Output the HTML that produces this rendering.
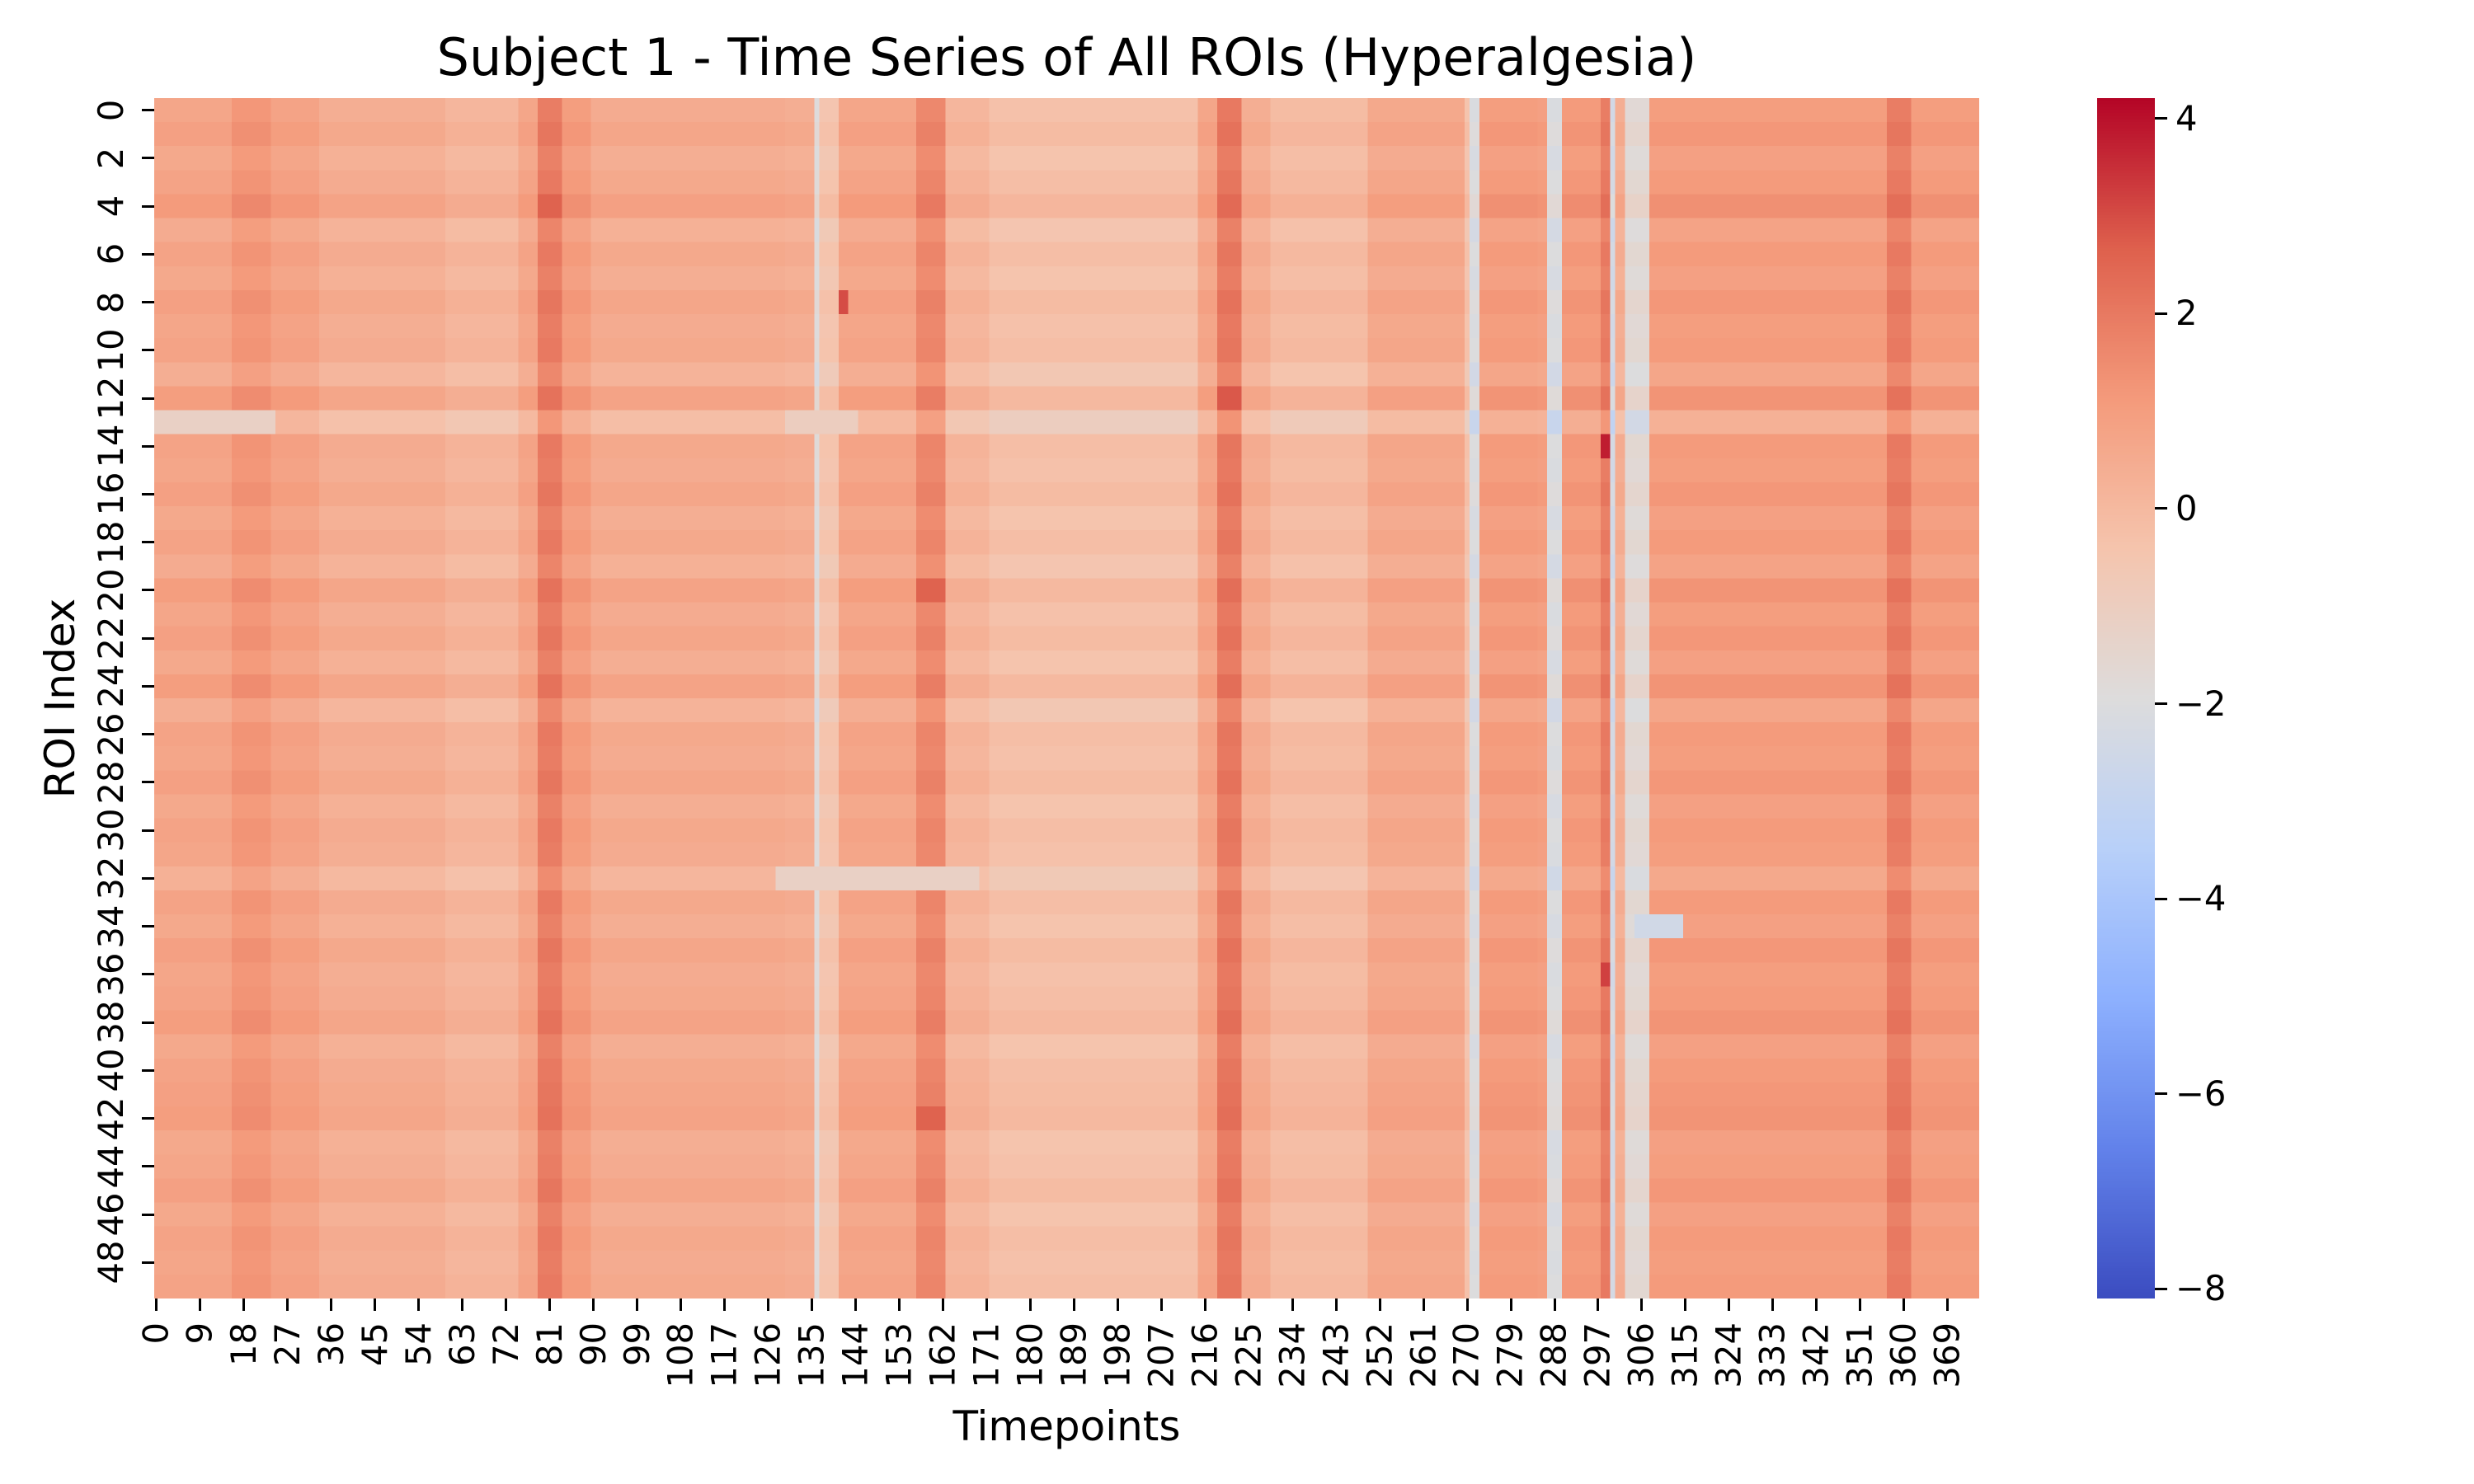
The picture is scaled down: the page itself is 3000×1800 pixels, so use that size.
<!DOCTYPE html>
<html><head><meta charset="utf-8"><style>
html,body{margin:0;padding:0;background:#fff;}
#root{position:relative;width:3000px;height:1800px;overflow:hidden;font-family:"DejaVu Sans","Liberation Sans",sans-serif;color:#000;}
.abs{position:absolute;}
canvas{image-rendering:pixelated;}
</style></head><body>
<div id="root">
<div class="abs" style="left:187px;width:2213px;top:30px;text-align:center;font-size:62px;line-height:80px;">Subject 1 - Time Series of All ROIs (Hyperalgesia)</div>
<canvas id="hm" class="abs" width="376" height="50" style="left:187px;top:119px;width:2213px;height:1456px;"></canvas>
<canvas id="cb" class="abs" width="1" height="400" style="left:2543px;top:119px;width:70px;height:1456px;"></canvas>
<div class="abs" style="left:187px;width:2213px;top:1700px;text-align:center;font-size:50px;line-height:60px;">Timepoints</div>
<div class="abs" style="left:73px;top:847px;width:0;height:0;"><div style="position:absolute;transform:translate(-50%,-50%) rotate(-90deg);white-space:nowrap;font-size:50px;line-height:60px;">ROI Index</div></div>
<div id="ticks"></div>
</div>
<script>
const colSegments=[[0,16,0.6],[16,24,1.1],[24,34,0.7],[34,60,0.3],[60,75,0.0],[75,79,0.6],[79,84,1.8],[84,90,0.9],[90,130,0.4],[130,136,0.3],[136,137,-2.0],[137,141,-0.6],[141,157,0.6],[157,163,1.5],[163,172,0.0],[172,215,-0.4],[215,219,0.6],[219,224,1.9],[224,230,0.3],[230,250,-0.2],[250,270,0.5],[270,271,-0.5],[271,273,-2.2],[273,285,0.9],[285,287,0.8],[287,290,-2.2],[290,298,1.0],[298,300,1.8],[300,301,-2.5],[301,303,0.3],[303,308,-1.8],[308,357,0.9],[357,362,1.8],[362,376,0.9]];
const rowOffsets=[0.1,0.3,0.0,0.2,0.5,-0.1,0.2,0.0,0.3,0.1,0.2,-0.2,0.4,-0.6,0.2,0.1,0.3,0.0,0.2,-0.1,0.4,0.1,0.3,0.0,0.4,-0.2,0.2,0.1,0.3,0.0,0.2,0.1,-0.3,0.2,0.0,0.3,0.1,0.2,0.4,0.0,0.2,0.3,0.4,0.0,0.1,0.3,0.0,0.2,0.1,0.2];
const overrides=[[13,0,25,-1.2],[13,130,145,-1.0],[32,128,170,-1.2],[34,305,315,-2.5],[14,298,300,3.8],[36,298,300,3.2],[8,141,143,3.0],[20,157,163,2.6],[42,157,163,2.6],[12,219,224,2.8],[4,79,84,2.6]];
const yTicks=[0,2,4,6,8,10,12,14,16,18,20,22,24,26,28,30,32,34,36,38,40,42,44,46,48];
const xTicks=[0,9,18,27,36,45,54,63,72,81,90,99,108,117,126,135,144,153,162,171,180,189,198,207,216,225,234,243,252,261,270,279,288,297,306,315,324,333,342,351,360,369];
const cbTicks=[4,2,0,-2,-4,-6,-8];
const vmin=-8.1,vmax=4.21,nCols=376,nRows=50;
const L=187,T=119,W=2213,H=1456;
const cw=W/nCols,rh=H/nRows;
const stops=[[0,59,76,192],[0.125,98,130,234],[0.25,141,176,254],[0.375,184,208,249],[0.5,221,220,220],[0.625,245,196,173],[0.75,244,154,123],[0.875,222,96,77],[1,180,4,38]];
function cmap(v){let t=(v-vmin)/(vmax-vmin);t=Math.max(0,Math.min(1,t));for(let i=1;i<stops.length;i++){if(t<=stops[i][0]){const a=stops[i-1],b=stops[i],f=(t-a[0])/(b[0]-a[0]);return [0,1,2].map(k=>Math.round(a[k+1]+(b[k+1]-a[k+1])*f));}}return [180,4,38];}
const colProfile=new Array(nCols).fill(0);
colSegments.forEach(s=>{for(let c=s[0];c<s[1];c++)colProfile[c]=s[2];});
const hm=document.getElementById('hm').getContext('2d');
const img=hm.createImageData(nCols,nRows);
for(let r=0;r<nRows;r++)for(let c=0;c<nCols;c++){
 let v=colProfile[c]+rowOffsets[r];
 overrides.forEach(o=>{if(o[0]===r&&c>=o[1]&&c<o[2])v=o[3];});
 const col=cmap(v),i=(r*nCols+c)*4;img.data[i]=col[0];img.data[i+1]=col[1];img.data[i+2]=col[2];img.data[i+3]=255;}
hm.putImageData(img,0,0);
const cb=document.getElementById('cb').getContext('2d');
for(let y=0;y<400;y++){const v=vmax-(y+0.5)/400*(vmax-vmin);const c=cmap(v);cb.fillStyle=`rgb(${c[0]},${c[1]},${c[2]})`;cb.fillRect(0,y,1,1);}
const tk=document.getElementById('ticks');
function add(html,name){const d=document.createElement('div');d.innerHTML=html;const e=d.firstChild;


tk.appendChild(e);}
yTicks.forEach(t=>{const y=T+(t+0.5)*rh;
add(`<div class="abs" style="left:${L-15}px;top:${y-1.5}px;width:15px;height:3px;background:#000"></div>`,'y-tick-mark');
add(`<div class="abs" style="left:135px;top:${y}px;width:0;height:0"><div style="position:absolute;transform:translate(-50%,-50%) rotate(-90deg);font-size:41.7px;line-height:48px;white-space:nowrap">${t}</div></div>`,'y-tick-label');});
xTicks.forEach(t=>{const x=L+(t+0.5)*cw;
add(`<div class="abs" style="left:${x-1.5}px;top:${T+H}px;width:3px;height:15px;background:#000"></div>`,'x-tick-mark');
add(`<div class="abs" style="left:${x}px;top:1604px;width:0;height:0"><div style="position:absolute;right:0;top:0;transform-origin:100% 0;transform:translate(0,0) rotate(-90deg) translate(0,-50%);font-size:41.7px;line-height:48px;white-space:nowrap">${t}</div></div>`,'x-tick-label');});
cbTicks.forEach(t=>{const y=T+(vmax-t)/(vmax-vmin)*H;
add(`<div class="abs" style="left:2613px;top:${y-1.5}px;width:15px;height:3px;background:#000"></div>`,'colorbar-tick-mark');
add(`<div class="abs" style="left:2638px;top:${y-24}px;font-size:41.7px;line-height:48px;white-space:nowrap">${t<0?'\u2212'+(-t):t}</div>`,'colorbar-tick-label');});
</script>
</body></html>
